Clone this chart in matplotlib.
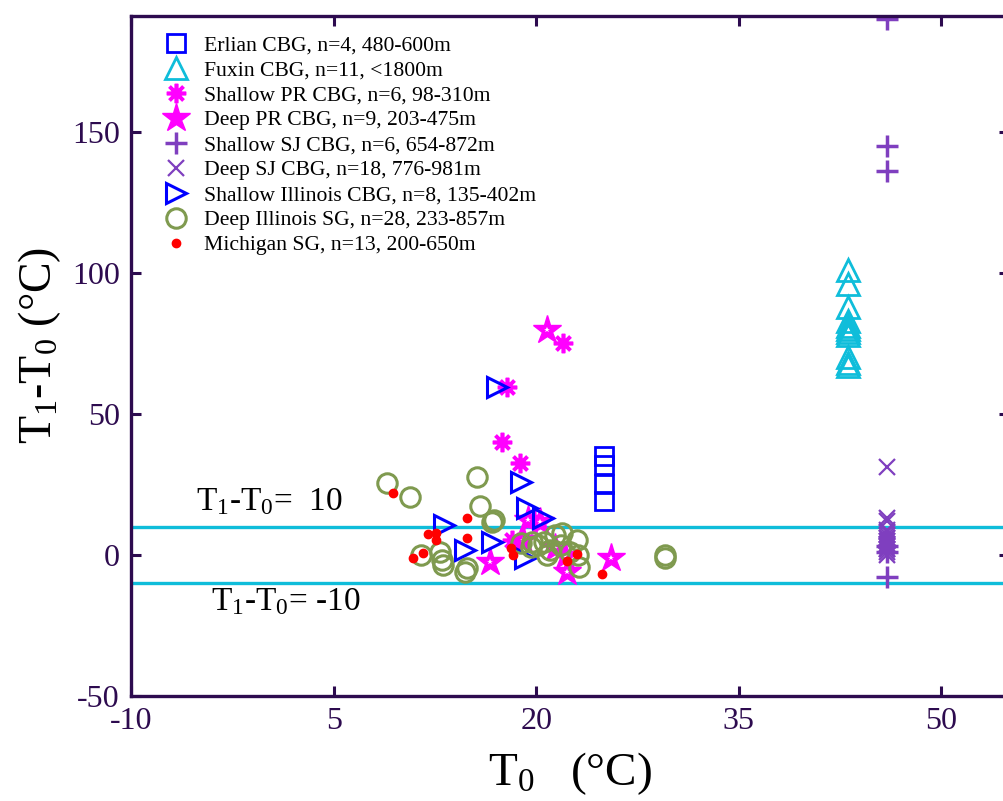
import matplotlib

matplotlib.use("Agg")
import matplotlib.pyplot as plt

plt.rcParams["font.family"] = ["Liberation Serif", "DejaVu Serif"]
plt.rcParams["mathtext.default"] = "regular"
plt.rcParams["axes.unicode_minus"] = False

AX_C = "#2d0b4f"
CYAN = "#0fbdda"
MAG = "#ff00ff"
BLUE = "#0000ff"
OLIVE = "#7f9a4f"
PURP = "#7f3fbf"
RED = "#ff0000"

# Erlian CBG
erlian_x = [25.0, 25.0, 25.0, 25.0]
erlian_y = [35, 32, 25, 19]
# Fuxin CBG
fuxin_x = [43.1] * 11
fuxin_y = [101, 96, 88, 83, 81, 80, 79, 78, 70, 68, 67]
# Shallow PR CBG
spr_x = [22.0, 17.8, 17.5, 18.8, 18.2, 19.8]
spr_y = [75, 59.5, 40, 32.5, 5.3, 12.4]
# Deep PR CBG
dpr_x = [20.8, 16.6, 22.3, 25.5, 19.4, 20.3, 19.0, 21.4, 22.1]
dpr_y = [79.6, -2.5, -6.0, -1.0, 12.4, 11.7, 5.3, 2.5, -0.4]
# Shallow SJ CBG
ssj_x = [46.0] * 6
ssj_y = [190, 145, 136, 3, 1, -8]
# Deep SJ CBG
dsj_x = [46.0] * 18
dsj_y = [31, 13, 12, 9, 8, 7, 6, 6, 5, 5, 4, 4, 3, 3, 2, 2, 1, 0]
# Shallow Illinois CBG
sil_x = [17.1, 18.9, 19.3, 20.5, 13.2, 14.7, 16.7, 19.2]
sil_y = [59.5, 25.8, 16.6, 13.0, 10.6, 1.8, 4.6, -1.0]
# Deep Illinois SG
dil_x = [8.95, 10.65, 15.6, 15.8, 16.7, 16.9, 11.5, 12.9, 13.0, 13.1, 14.7, 14.9,
         18.9, 19.7, 20.6, 21.4, 21.9, 21.0, 20.8, 21.8, 23.0, 23.2, 23.1, 20.1,
         29.5, 29.5, 19.6, 22.5]
dil_y = [25.5, 20.5, 27.6, 17.3, 11.7, 12.4, 0.0, 1.0, -1.8, -3.5, -6.0, -4.6,
         4.2, 4.6, 4.6, 7.1, 7.8, 1.8, 0.0, 3.5, 5.3, -4.2, 0.0, 3.5,
         -1.0, 0.0, 2.8, 1.0]
# Michigan SG
mich_x = [9.4, 14.9, 12.0, 12.6, 12.6, 14.9, 10.9, 11.6, 18.1, 18.3, 23.0, 22.3, 24.9]
mich_y = [21.9, 13.1, 7.4, 7.8, 5.3, 6.0, -1.1, 0.7, 2.5, 0.0, 0.4, -2.1, -6.7]

fig = plt.figure(figsize=(10.04, 8.01), dpi=100)
ax = fig.add_axes([0.1305, 0.1311, 0.8745, 0.8489])

ax.axhline(10, color=CYAN, lw=2.4, zorder=1)
ax.axhline(-10, color=CYAN, lw=2.4, zorder=1)

ax.plot(erlian_x, erlian_y, ls="none", marker="s", ms=13, mfc="none", mec=BLUE, mew=2,
        label="Erlian CBG, n=4, 480-600m")
ax.plot(fuxin_x, fuxin_y, ls="none", marker="^", ms=16.5, mfc="none", mec=CYAN, mew=2,
        label="Fuxin CBG, n=11, <1800m")
ax.plot(spr_x, spr_y, ls="none", marker=(8, 2, 0), ms=14, mec=MAG, mew=2.6,
        label="Shallow PR CBG, n=6, 98-310m")
ax.plot(dpr_x, dpr_y, ls="none", marker="*", ms=21, mfc=MAG, mec=MAG, mew=1,
        label="Deep PR CBG, n=9, 203-475m")
ax.plot(dpr_x, dpr_y, ls="none", marker="*", ms=4, mfc="white", mec="white", mew=0)
ax.plot(ssj_x, ssj_y, ls="none", marker="+", ms=16, mec=PURP, mew=2.5,
        label="Shallow SJ CBG, n=6, 654-872m")
ax.plot(dsj_x, dsj_y, ls="none", marker="x", ms=11, mec=PURP, mew=1.6,
        label="Deep SJ CBG, n=18, 776-981m")
ax.plot(sil_x, sil_y, ls="none", marker=">", ms=14, mfc="none", mec=BLUE, mew=2.2,
        label="Shallow Illinois CBG, n=8, 135-402m")
ax.plot(dil_x, dil_y, ls="none", marker="o", ms=14, mfc="none", mec=OLIVE, mew=2.2,
        label="Deep Illinois SG, n=28, 233-857m")
ax.plot(mich_x, mich_y, ls="none", marker="o", ms=6, mfc=RED, mec=RED,
        label="Michigan SG, n=13, 200-650m")

ax.text(-5.2, 16, "T$_1$-T$_0$=  10", fontsize=24, va="baseline")
ax.text(-4.1, -19.5, "T$_1$-T$_0$= -10", fontsize=24, va="baseline")

ax.set_xlim(-10, 55)
ax.set_ylim(-50, 191)
ax.set_xticks([-10, 5, 20, 35, 50])
ax.set_yticks([-50, 0, 50, 100, 150])
ax.tick_params(direction="in", length=7, width=2.2, colors=AX_C, labelsize=23,
               top=True, right=True, pad=8)
for s in ax.spines.values():
    s.set_color(AX_C)
    s.set_linewidth(2.4)

ax.set_xlabel("T$_0$   (°C)", fontsize=34, labelpad=10)
ax.set_ylabel("T$_1$-T$_0$ (°C)", fontsize=33)
ax.yaxis.set_label_coords(-0.078, 0.516)

leg = ax.legend(loc="upper left", bbox_to_anchor=(0.014, 1.0), frameon=False,
                fontsize=15.6, labelspacing=0.22, handlelength=1.2, handletextpad=0.7,
                numpoints=1)

fig.savefig("out.png", dpi=100)
